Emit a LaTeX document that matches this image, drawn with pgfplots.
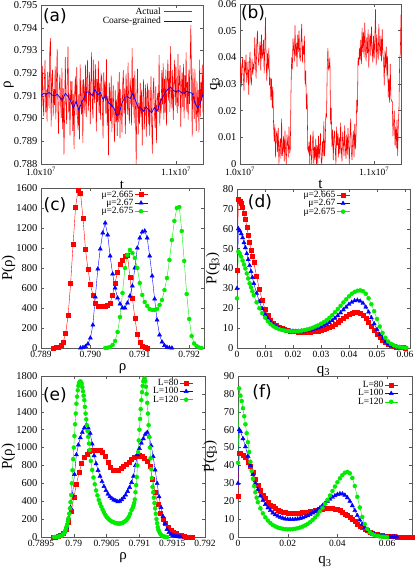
\documentclass[border=0pt]{standalone}
\usepackage{fontspec}
\setmainfont{Liberation Serif}
\newfontfamily\panelfont{DejaVu Sans}
\usepackage{pgfplots}
\pgfplotsset{compat=1.18}
\definecolor{gred}{RGB}{255,0,0}
\definecolor{gblue}{RGB}{0,0,255}
\definecolor{ggreen}{RGB}{0,235,0}

\pgfplotsset{
  panel/.style={
    scale only axis, anchor=south west,
    axis line style={black!65}, every tick/.style={black!65},
    major tick length=3pt, tick align=inside,
    scaled ticks=false,
    /pgf/number format/assume math mode=true,
    /pgf/number format/1000 sep={},
    xticklabel style={font=\fontsize{9.5}{10}\selectfont},
    yticklabel style={font=\fontsize{10.5}{11}\selectfont},
    label style={font=\fontsize{15}{16}\selectfont},
    legend cell align=right, legend plot pos=right,
    legend style={draw=none, fill=none, font=\fontsize{9.5}{9.5}\selectfont,
      row sep=-1.5pt, inner sep=0pt, nodes={inner sep=1pt}},
    legend image code/.code={\draw[mark repeat=2,mark phase=2,##1] plot coordinates {(0pt,0pt)(6.5pt,0pt)(13pt,0pt)};},
  },
  sq/.style={gred, line width=0.4pt, mark=square*, mark size=2pt, mark options={solid}},
  tri/.style={gblue, line width=0.4pt, mark=triangle*, mark size=2.4pt, mark options={solid}},
  cir/.style={ggreen, line width=0.4pt, mark=*, mark size=2pt, mark options={solid}},
}
\newcommand{\plabel}[3]{\node[font=\panelfont\fontsize{17}{17}\selectfont] at (rel axis cs:#1,#2) {#3};}

\begin{document}
\begin{tikzpicture}[x=1pt,y=1pt]
\path[use as bounding box] (0,0) rectangle (415,567);

% (a) rho time series
\begin{axis}[panel, at={(41pt,403pt)}, width=162pt, height=159pt,
  xmin=1000, xmax=1120, ymin=0.788, ymax=0.795,
  xtick={1000,1100}, xticklabels={1.0x10\textsuperscript{7},1.1x10\textsuperscript{7}},
  ytick={0.788,0.789,0.790,0.791,0.792,0.793,0.794,0.795},
  yticklabels={0.788,0.789,0.790,0.791,0.792,0.793,0.794,0.795},
  xlabel={t}, ylabel={ρ},
  xlabel style={at={(axis description cs:0.5,-0.135)}, anchor=center},
  ylabel style={at={(axis description cs:-0.2,0.5)}, anchor=center},
]
\addplot[gred, line width=0.55pt] coordinates {
(1000,0.79180)(1000.5,0.79040)(1001,0.79231)(1001.5,0.79081)(1002,0.79011)(1002.5,0.79161)(1003,0.79257)(1003.5,0.79027)(1004,0.79127)(1004.5,0.78987)
(1005,0.79205)(1005.5,0.79155)(1006,0.79045)(1006.5,0.79295)(1007,0.79354)(1007.5,0.78964)(1008,0.79164)(1008.5,0.79214)(1009,0.79010)(1009.5,0.79130)
(1010,0.79060)(1010.5,0.79230)(1011,0.78997)(1011.5,0.79177)(1012,0.79307)(1012.5,0.79047)(1013,0.78933)(1013.5,0.79133)(1014,0.79193)(1014.5,0.79073)
(1015,0.79003)(1015.5,0.79223)(1016,0.78953)(1016.5,0.79133)(1017,0.78841)(1017.5,0.79021)(1018,0.79271)(1018.5,0.79071)(1019,0.78977)(1019.5,0.79177)
(1020,0.79317)(1020.5,0.79027)(1021,0.79106)(1021.5,0.78926)(1022,0.79166)(1022.5,0.79066)(1023,0.79166)(1023.5,0.78946)(1024,0.79106)(1024.5,0.78866)
(1025,0.79116)(1025.5,0.79186)(1026,0.79016)(1026.5,0.79226)(1027,0.79008)(1027.5,0.78948)(1028,0.79108)(1028.5,0.78908)(1029,0.79239)(1029.5,0.79089)
(1030,0.79019)(1030.5,0.79169)(1031,0.78893)(1031.5,0.79173)(1032,0.79123)(1032.5,0.79023)(1033,0.79238)(1033.5,0.79008)(1034,0.79168)(1034.5,0.79258)
(1035,0.79035)(1035.5,0.79095)(1036,0.79205)(1036.5,0.78975)(1037,0.79161)(1037.5,0.79291)(1038,0.79061)(1038.5,0.79001)(1039,0.79259)(1039.5,0.79069)
(1040,0.79139)(1040.5,0.79239)(1041,0.78944)(1041.5,0.79174)(1042,0.79074)(1042.5,0.79254)(1043,0.79025)(1043.5,0.79155)(1044,0.78995)(1044.5,0.79195)
(1045,0.79183)(1045.5,0.79033)(1046,0.78913)(1046.5,0.79203)(1047,0.79091)(1047.5,0.79161)(1048,0.79021)(1048.5,0.79261)(1049,0.78969)(1049.5,0.79099)
(1050,0.78839)(1050.5,0.79159)(1051,0.79110)(1051.5,0.78990)(1052,0.79190)(1052.5,0.78940)(1053,0.79066)(1053.5,0.79146)(1054,0.78986)(1054.5,0.78896)
(1055,0.79124)(1055.5,0.78984)(1056,0.79084)(1056.5,0.78924)(1057,0.79164)(1057.5,0.78984)(1058,0.79204)(1058.5,0.78914)(1059,0.79129)(1059.5,0.79049)
(1060,0.78939)(1060.5,0.79149)(1061,0.79213)(1061.5,0.79023)(1062,0.79133)(1062.5,0.78933)(1063,0.79197)(1063.5,0.79107)(1064,0.79017)(1064.5,0.79247)
(1065,0.79038)(1065.5,0.78978)(1066,0.79178)(1066.5,0.79118)(1067,0.78970)(1067.5,0.79310)(1068,0.79050)(1068.5,0.79180)(1069,0.78979)(1069.5,0.79209)
(1070,0.79049)(1070.5,0.78799)(1071,0.79099)(1071.5,0.79219)(1072,0.78929)(1072.5,0.79069)(1073,0.78976)(1073.5,0.79156)(1074,0.79006)(1074.5,0.79126)
(1075,0.78882)(1075.5,0.79092)(1076,0.79172)(1076.5,0.78952)(1077,0.79041)(1077.5,0.79151)(1078,0.78921)(1078.5,0.79091)(1079,0.79155)(1079.5,0.78975)
(1080,0.79125)(1080.5,0.78925)(1081,0.79056)(1081.5,0.79186)(1082,0.78976)(1082.5,0.78846)(1083,0.79119)(1083.5,0.79179)(1084,0.79029)(1084.5,0.78959)
(1085,0.79142)(1085.5,0.78892)(1086,0.79082)(1086.5,0.79112)(1087,0.79029)(1087.5,0.79279)(1088,0.78969)(1088.5,0.79089)(1089,0.79023)(1089.5,0.79213)
(1090,0.79063)(1090.5,0.79243)(1091,0.78995)(1091.5,0.79175)(1092,0.79025)(1092.5,0.79215)(1093,0.78969)(1093.5,0.79169)(1094,0.79259)(1094.5,0.79079)
(1095,0.79209)(1095.5,0.79029)(1096,0.79319)(1096.5,0.79119)(1097,0.79044)(1097.5,0.79214)(1098,0.78994)(1098.5,0.79154)(1099,0.79258)(1099.5,0.79058)
(1100,0.79228)(1100.5,0.79078)(1101,0.79024)(1101.5,0.79284)(1102,0.79054)(1102.5,0.79174)(1103,0.79235)(1103.5,0.78965)(1104,0.79135)(1104.5,0.79205)
(1105,0.79051)(1105.5,0.79241)(1106,0.79001)(1106.5,0.79191)(1107,0.79091)(1107.5,0.79291)(1108,0.79031)(1108.5,0.79161)(1109,0.78995)(1109.5,0.79215)
(1110,0.79065)(1110.5,0.79255)(1111,0.79411)(1111.5,0.79171)(1112,0.78921)(1112.5,0.79221)(1113,0.79099)(1113.5,0.78999)(1114,0.79219)(1114.5,0.79049)
(1115,0.78946)(1115.5,0.79166)(1116,0.79006)(1116.5,0.79126)(1117,0.78939)(1117.5,0.79259)(1118,0.79009)(1118.5,0.79159)(1119,0.79077)(1119.5,0.79237)(1120,0.79027)
};
\addplot[gblue, line width=0.7pt] coordinates {
(1000,0.79100)(1002,0.79111)(1004,0.79107)(1006,0.79115)(1008,0.79104)(1010,0.79100)(1012,0.79107)(1014,0.79093)(1016,0.79083)(1018,0.79111)
(1020,0.79097)(1022,0.79076)(1024,0.79046)(1026,0.79076)(1028,0.79038)(1030,0.79069)(1032,0.79093)(1034,0.79118)(1036,0.79115)(1038,0.79101)
(1040,0.79129)(1042,0.79104)(1044,0.79115)(1046,0.79083)(1048,0.79101)(1050,0.79069)(1052,0.79060)(1054,0.79046)(1056,0.79014)(1058,0.79024)
(1060,0.79069)(1062,0.79093)(1064,0.79097)(1066,0.79088)(1068,0.79110)(1070,0.79079)(1072,0.79049)(1074,0.79046)(1076,0.79032)(1078,0.79051)
(1080,0.79035)(1082,0.79026)(1084,0.79049)(1086,0.79032)(1088,0.79069)(1090,0.79093)(1092,0.79115)(1094,0.79129)(1096,0.79139)(1098,0.79124)
(1100,0.79118)(1102,0.79124)(1104,0.79115)(1106,0.79111)(1108,0.79121)(1110,0.79115)(1112,0.79111)(1114,0.79069)(1116,0.79046)(1118,0.79069)(1120,0.79107)
};
% key for the two series
\draw[gred, line width=0.9pt] (axis description cs:0.759,0.962) -- (axis description cs:0.932,0.962);
\draw[gblue, line width=0.9pt] (axis description cs:0.759,0.899) -- (axis description cs:0.932,0.899);
\node[anchor=east, inner sep=0pt, font=\fontsize{9.5}{9.5}\selectfont] at (axis description cs:0.741,0.962) {Actual};
\node[anchor=east, inner sep=0pt, font=\fontsize{9.5}{9.5}\selectfont] at (axis description cs:0.741,0.899) {Coarse-grained};
\plabel{0.086}{0.931}{(a)}
\end{axis}

% (b) q3 time series
\begin{axis}[panel, at={(240pt,403pt)}, width=161pt, height=160pt,
  xmin=1000, xmax=1120, ymin=0, ymax=0.06,
  xtick={1000,1100}, xticklabels={1.0x10\textsuperscript{7},1.1x10\textsuperscript{7}},
  ytick={0,0.01,0.02,0.03,0.04,0.05,0.06},
  yticklabels={0,0.01,0.02,0.03,0.04,0.05,0.06},
  xlabel={t}, ylabel={q\textsubscript{3}},
  xlabel style={at={(axis description cs:0.5,-0.13)}, anchor=center},
  ylabel style={at={(axis description cs:-0.155,0.5)}, anchor=center},
]
\addplot[gred, line width=0.55pt] coordinates {
(1000,0.031)(1000.5,0.038)(1001,0.029)(1001.5,0.0365)(1002,0.040)(1002.5,0.0325)(1003,0.0275)(1003.5,0.039)(1004,0.034)(1004.5,0.041)
(1005,0.0305)(1005.5,0.033)(1006,0.0385)(1006.5,0.026)(1007,0.0375)(1007.5,0.042)(1008,0.032)(1008.5,0.0295)(1009,0.0395)(1009.5,0.0335)
(1010,0.037)(1010.5,0.0355)(1011,0.0475)(1011.5,0.0385)(1012,0.032)(1012.5,0.045)(1013,0.050)(1013.5,0.040)(1014,0.037)(1014.5,0.043)
(1015,0.046)(1015.5,0.035)(1016,0.0485)(1016.5,0.0395)(1017,0.0415)(1017.5,0.0465)(1018,0.034)(1018.5,0.044)(1019,0.055)(1019.5,0.038)
(1020,0.031)(1020.5,0.0415)(1021,0.0355)(1021.5,0.0435)(1022,0.0295)(1022.5,0.0325)(1023,0.024)(1023.5,0.032)(1024,0.021)(1024.5,0.029)
(1025,0.015)(1025.5,0.0085)(1026,0.015)(1026.5,0.0025)(1027,0.0105)(1027.5,0.0125)(1028,0.0045)(1028.5,0.0135)(1029,0)(1029.5,0.006)
(1030,0.0095)(1030.5,0.002)(1031,0.017)(1031.5,0.003)(1032,0.0055)(1032.5,0.0105)(1033,0.001)(1033.5,0.0125)(1034,0.0045)(1034.5,0)
(1035,0.011)(1035.5,0.008)(1036,0.0025)(1036.5,0.014)(1037,0.004)(1037.5,0.0055)(1038,0.027)(1038.5,0.040)(1039,0.0355)(1039.5,0.047)
(1040,0.0435)(1040.5,0.0385)(1041,0.052)(1041.5,0.0405)(1042,0.0455)(1042.5,0.0365)(1043,0.0485)(1043.5,0.042)(1044,0.050)(1044.5,0.040)
(1045,0.039)(1045.5,0.0465)(1046,0.0525)(1046.5,0.038)(1047,0.0445)(1047.5,0.041)(1048,0.048)(1048.5,0.030)(1049,0.035)(1049.5,0.0205)
(1050,0.0265)(1050.5,0.0055)(1051,0.0045)(1051.5,0.0085)(1052,0)(1052.5,0.011)(1053,0.004)(1053.5,0)(1054,0.008)(1054.5,0.0125)
(1055,0)(1055.5,0.0065)(1056,0.0015)(1056.5,0.0095)(1057,0)(1057.5,0.007)(1058,0)(1058.5,0.0105)(1059,0.002)(1059.5,0.006)
(1060,0.0115)(1060.5,0.001)(1061,0)(1061.5,0.0085)(1062,0.003)(1062.5,0.016)(1063,0.003)(1063.5,0.0075)(1064,0.019)(1064.5,0.0175)
(1065,0.0355)(1065.5,0.0435)(1066,0.0355)(1066.5,0.0365)(1067,0.040)(1067.5,0.015)(1068,0.021)(1068.5,0.0065)(1069,0.013)(1069.5,0.0015)
(1070,0.0095)(1070.5,0.0125)(1071,0.0055)(1071.5,0)(1072,0.014)(1072.5,0.007)(1073,0.0115)(1073.5,0.0025)(1074,0.010)(1074.5,0.004)
(1075,0.0155)(1075.5,0.005)(1076,0.001)(1076.5,0.012)(1077,0.0085)(1077.5,0.003)(1078,0.0145)(1078.5,0.006)(1079,0.002)(1079.5,0.011)
(1080,0.0035)(1080.5,0.0135)(1081,0.0065)(1081.5,0)(1082,0.0105)(1082.5,0.017)(1083,0.0045)(1083.5,0.0015)(1084,0.009)(1084.5,0.0125)
(1085,0.0025)(1085.5,0.015)(1086,0.0055)(1086.5,0.011)(1087,0.024)(1087.5,0.0195)(1088,0.040)(1088.5,0.037)(1089,0.0435)(1089.5,0.039)
(1090,0.0465)(1090.5,0.0375)(1091,0.051)(1091.5,0.042)(1092,0.0495)(1092.5,0.040)(1093,0.053)(1093.5,0.043)(1094,0.0385)(1094.5,0.0475)
(1095,0.0415)(1095.5,0.0505)(1096,0.036)(1096.5,0.046)(1097,0.049)(1097.5,0.0405)(1098,0.0515)(1098.5,0.0435)(1099,0.038)(1099.5,0.048)
(1100,0.0395)(1100.5,0.047)(1101,0.058)(1101.5,0.037)(1102,0.0485)(1102.5,0.0425)(1103,0.039)(1103.5,0.0525)(1104,0.044)(1104.5,0.0405)
(1105,0.048)(1105.5,0.0385)(1106,0.0505)(1106.5,0.041)(1107,0.0395)(1107.5,0.0295)(1108,0.0425)(1108.5,0.036)(1109,0.044)(1109.5,0.033)
(1110,0.0405)(1110.5,0.025)(1111,0.032)(1111.5,0.023)(1112,0.0375)(1112.5,0.0245)(1113,0.0235)(1113.5,0.0235)(1114,0.0105)(1114.5,0.016)
(1115,0.020)(1115.5,0.007)(1116,0.014)(1116.5,0.006)(1117,0.0165)(1117.5,0.003)(1118,0.015)(1118.5,0.0205)(1119,0.0395)(1119.5,0.0415)(1120,0.056)
};
\plabel{0.081}{0.944}{(b)}
\end{axis}

% (c) P(rho) for three mu
\begin{axis}[panel, at={(41pt,219pt)}, width=163pt, height=160pt,
  xmin=0.789, xmax=0.7923, ymin=0, ymax=1600,
  xtick={0.789,0.790,0.791,0.792}, xticklabels={0.789,0.790,0.791,0.792},
  ytick={0,200,400,600,800,1000,1200,1400,1600},
  xlabel={ρ}, ylabel={P(ρ)},
  xlabel style={at={(axis description cs:0.5,-0.13)}, anchor=center},
  ylabel style={at={(axis description cs:-0.2,0.5)}, anchor=center},
  legend style={at={(0.656,0.99)}, anchor=north east},
]
\addplot[sq] coordinates {
(0.78925,0)(0.78930,3)(0.78935,10)(0.78940,25)(0.78945,60)(0.78950,150)(0.78955,330)(0.78960,650)(0.78965,1040)(0.78970,1410)
(0.78975,1580)(0.78980,1550)(0.78985,1300)(0.78990,990)(0.78995,790)(0.79000,640)(0.79005,530)(0.79010,450)(0.79015,420)(0.79020,415)
(0.79025,415)(0.79030,420)(0.79035,430)(0.79040,450)(0.79045,530)(0.79050,650)(0.79055,760)(0.79060,840)(0.79065,880)(0.79070,920)
(0.79075,930)(0.79080,710)(0.79085,500)(0.79090,300)(0.79095,140)(0.79100,60)(0.79105,20)(0.79110,5)(0.79115,0)
};
\addplot[tri] coordinates {
(0.78980,0)(0.78985,5)(0.78990,15)(0.78995,40)(0.79000,100)(0.79005,230)(0.79010,510)(0.79015,790)(0.79020,990)(0.79025,1150)
(0.79030,1250)(0.79035,1130)(0.79040,920)(0.79045,740)(0.79050,600)(0.79055,500)(0.79060,440)(0.79065,400)(0.79070,400)(0.79075,450)
(0.79080,520)(0.79085,620)(0.79090,800)(0.79095,1000)(0.79100,1100)(0.79105,1160)(0.79110,1170)(0.79115,1100)(0.79120,920)(0.79125,720)
(0.79130,490)(0.79135,280)(0.79140,130)(0.79145,60)(0.79150,25)(0.79155,8)(0.79160,2)(0.79165,0)
};
\addplot[cir] coordinates {
(0.79030,0)(0.79035,3)(0.79040,10)(0.79045,30)(0.79050,70)(0.79055,160)(0.79060,310)(0.79065,550)(0.79070,800)(0.79075,930)
(0.79080,980)(0.79085,950)(0.79090,900)(0.79095,800)(0.79100,650)(0.79105,530)(0.79110,460)(0.79115,420)(0.79120,390)(0.79125,380)
(0.79130,380)(0.79135,390)(0.79140,430)(0.79145,480)(0.79150,580)(0.79155,700)(0.79160,880)(0.79165,1080)(0.79170,1270)(0.79175,1400)
(0.79180,1410)(0.79185,1170)(0.79190,870)(0.79195,540)(0.79200,290)(0.79205,120)(0.79210,45)(0.79215,20)(0.79220,5)(0.79225,0)
};
\legend{μ=2.665,μ=2.67,μ=2.675}
\plabel{0.086}{0.894}{(c)}
\end{axis}

% (d) P(q3) for three mu
\begin{axis}[panel, at={(237pt,219pt)}, width=173pt, height=159pt,
  xmin=0, xmax=0.0618, ymin=0, ymax=80,
  xtick={0,0.01,0.02,0.03,0.04,0.05,0.06}, xticklabels={0,0.01,0.02,0.03,0.04,0.05,0.06},
  ytick={0,10,20,30,40,50,60,70,80},
  xlabel={q\textsubscript{3}}, ylabel={P(q\textsubscript{3})},
  xlabel style={at={(axis description cs:0.5,-0.145)}, anchor=center},
  ylabel style={at={(axis description cs:-0.14,0.5)}, anchor=center},
  legend style={at={(0.653,0.994)}, anchor=north east},
]
\addplot[sq] coordinates {
(0,39)(0.0005,75)(0.001,74)(0.0015,73)(0.002,71)(0.0025,68)(0.003,65)(0.0035,61)(0.004,57)(0.0045,53)(0.005,49)(0.0055,46)(0.006,43)
(0.007,36)(0.008,29.5)(0.009,24)(0.010,19.5)(0.011,16.5)(0.012,14)(0.013,12.5)(0.014,11.3)(0.015,10.5)(0.016,9.9)(0.017,9.4)(0.018,9)
(0.019,8.7)(0.020,8.4)(0.021,8.2)(0.022,8.1)(0.023,8)(0.024,8)(0.025,8)(0.026,8.1)(0.027,8.2)(0.028,8.4)(0.029,8.7)(0.030,9)
(0.031,9.4)(0.032,9.9)(0.033,10.5)(0.034,11.2)(0.035,12)(0.036,13)(0.037,14)(0.038,15)(0.039,16)(0.040,16.9)(0.041,17.5)(0.042,17.9)
(0.043,18)(0.044,17.6)(0.045,16.6)(0.046,15.1)(0.047,13.2)(0.048,11.1)(0.049,9)(0.050,7.1)(0.051,5.4)(0.052,4)(0.053,2.9)(0.054,2)
(0.055,1.4)(0.056,0.9)(0.057,0.6)(0.058,0.4)(0.059,0.2)(0.060,0.1)
};
\addplot[tri] coordinates {
(0,30)(0.0005,60)(0.001,59)(0.0015,57.5)(0.002,55.5)(0.0025,53)(0.003,50.5)(0.0035,47.5)(0.004,44.5)(0.0045,41.5)(0.005,38.5)(0.0055,35.5)(0.006,32.5)
(0.007,27.5)(0.008,23.3)(0.009,19.8)(0.010,17)(0.011,14.8)(0.012,13)(0.013,11.7)(0.014,10.7)(0.015,10)(0.016,9.5)(0.017,9.1)(0.018,8.8)
(0.019,8.6)(0.020,8.5)(0.021,8.4)(0.022,8.4)(0.023,8.5)(0.024,8.6)(0.025,8.8)(0.026,9.1)(0.027,9.4)(0.028,9.8)(0.029,10.2)(0.030,10.7)
(0.031,11.3)(0.032,12)(0.033,12.8)(0.034,13.8)(0.035,15)(0.036,16.3)(0.037,17.7)(0.038,19.2)(0.039,20.6)(0.040,22)(0.041,23)(0.042,23.8)
(0.043,24)(0.044,23.6)(0.045,22.5)(0.046,20.6)(0.047,18.1)(0.048,15.2)(0.049,12.2)(0.050,9.3)(0.051,6.8)(0.052,4.8)(0.053,3.2)(0.054,2.1)
(0.055,1.3)(0.056,0.8)(0.057,0.5)(0.058,0.3)(0.059,0.15)(0.060,0.05)
};
\addplot[cir] coordinates {
(0,25)(0.0005,48.5)(0.001,47.5)(0.0015,46)(0.002,44)(0.0025,42)(0.003,40)(0.0035,37.5)(0.004,35)(0.0045,32.5)(0.005,30.5)(0.0055,28.5)(0.006,26.5)
(0.007,23)(0.008,20)(0.009,17.5)(0.010,15.3)(0.011,13.5)(0.012,12)(0.013,10.9)(0.014,10.1)(0.015,9.5)(0.016,9.1)(0.017,8.8)(0.018,8.6)
(0.019,8.5)(0.020,8.4)(0.021,8.4)(0.022,8.5)(0.023,8.7)(0.024,9)(0.025,9.3)(0.026,9.7)(0.027,10.2)(0.028,10.8)(0.029,11.4)(0.030,12.2)
(0.031,13)(0.032,14)(0.033,15.2)(0.034,16.5)(0.035,18)(0.036,19.6)(0.037,21.2)(0.038,22.9)(0.039,24.5)(0.040,26)(0.041,27.3)(0.042,28.2)
(0.043,28.8)(0.044,29)(0.045,28.6)(0.046,27.3)(0.047,25)(0.048,22)(0.049,18.5)(0.050,14.6)(0.051,10.8)(0.052,7.6)(0.053,5.1)(0.054,3.3)
(0.055,2.1)(0.056,1.3)(0.057,0.8)(0.058,0.5)(0.059,0.3)(0.060,0.15)(0.0605,0.1)
};
\legend{μ=2.665,μ=2.67,μ=2.675}
\plabel{0.133}{0.918}{(d)}
\end{axis}

% (e) P(rho) for three L
\begin{axis}[panel, at={(41pt,30pt)}, width=164pt, height=161pt,
  xmin=0.7895, xmax=0.792, ymin=0, ymax=1800,
  xtick={0.7895,0.7900,0.7905,0.7910,0.7915,0.7920}, xticklabels={0.7895,0.79,0.7905,0.791,0.7915,0.792},
  ytick={0,200,400,600,800,1000,1200,1400,1600,1800},
  xlabel={ρ}, ylabel={P(ρ)},
  xlabel style={at={(axis description cs:0.5,-0.13)}, anchor=center},
  ylabel style={at={(axis description cs:-0.2,0.5)}, anchor=center},
  legend style={at={(0.927,0.988)}, anchor=north east},
]
\addplot[sq] coordinates {
(0.78968,0)(0.78972,2)(0.78976,8)(0.78980,20)(0.78984,45)(0.78988,90)(0.78992,170)(0.78996,290)(0.79000,440)(0.79004,590)
(0.79008,720)(0.79012,820)(0.79016,890)(0.79020,930)(0.79024,960)(0.79028,975)(0.79032,975)(0.79036,970)(0.79040,965)(0.79044,950)
(0.79048,900)(0.79052,840)(0.79056,780)(0.79060,750)(0.79064,745)(0.79068,750)(0.79072,770)(0.79076,790)(0.79080,810)(0.79084,840)
(0.79088,870)(0.79092,890)(0.79096,905)(0.79100,915)(0.79104,905)(0.79108,880)(0.79112,850)(0.79116,790)(0.79120,650)(0.79124,500)
(0.79128,370)(0.79132,270)(0.79136,200)(0.79140,150)(0.79144,110)(0.79148,80)(0.79152,55)(0.79156,38)(0.79160,25)(0.79164,15)
(0.79168,8)(0.79172,3)(0.79176,0)(0.79180,0)
};
\addplot[tri] coordinates {
(0.78974,0)(0.78977,5)(0.78980,15)(0.78983,30)(0.78986,60)(0.78989,110)(0.78992,210)(0.78995,330)(0.78998,470)(0.79001,700)
(0.79004,920)(0.79007,1030)(0.79010,1110)(0.79013,1170)(0.79016,1220)(0.79019,1250)(0.79022,1220)(0.79025,1160)(0.79028,1040)(0.79031,910)
(0.79034,820)(0.79037,745)(0.79040,680)(0.79043,620)(0.79046,565)(0.79049,520)(0.79052,480)(0.79055,450)(0.79058,430)(0.79061,415)
(0.79064,405)(0.79067,395)(0.79070,400)(0.79073,418)(0.79076,440)(0.79079,470)(0.79082,510)(0.79085,555)(0.79088,610)(0.79091,680)
(0.79094,800)(0.79097,920)(0.79100,990)(0.79103,1050)(0.79106,1100)(0.79109,1150)(0.79112,1170)(0.79115,1120)(0.79118,1020)(0.79121,900)
(0.79124,750)(0.79127,600)(0.79130,450)(0.79133,330)(0.79136,230)(0.79139,150)(0.79142,85)(0.79145,50)(0.79148,30)(0.79151,18)
(0.79154,10)(0.79157,5)(0.79160,2)(0.79163,0)
};
\addplot[cir] coordinates {
(0.78970,0)(0.78972,1)(0.78974,2)(0.78976,4)(0.78978,7)(0.78980,10)(0.78982,18)(0.78984,30)(0.78986,50)(0.78987,70)
(0.78988,90)(0.78989,115)(0.78990,140)(0.78991,175)(0.78992,210)(0.78993,260)(0.78994,320)(0.78995,390)(0.78996,470)(0.78997,600)
(0.78998,746)(0.78999,870)(0.79000,1000)(0.79001,1130)(0.79002,1260)(0.79003,1380)(0.79004,1490)(0.79005,1570)(0.79006,1640)(0.79007,1690)
(0.79008,1720)(0.79009,1735)(0.79010,1740)(0.79011,1730)(0.79012,1715)(0.79013,1675)(0.79014,1630)(0.79015,1580)(0.79016,1530)(0.79017,1455)
(0.79018,1380)(0.79019,1315)(0.79020,1250)(0.79021,1185)(0.79022,1120)(0.79023,1045)(0.79024,970)(0.79026,850)(0.79028,750)(0.79030,665)
(0.79032,590)(0.79034,520)(0.79036,465)(0.79038,415)(0.79040,375)(0.79042,340)(0.79044,305)(0.79046,275)(0.79048,248)(0.79050,225)
(0.79052,208)(0.79054,194)(0.79056,182)(0.79058,173)(0.79060,166)(0.79062,160)(0.79064,155)(0.79066,152)(0.79068,150)(0.79070,150)
(0.79072,153)(0.79074,158)(0.79076,165)(0.79078,175)(0.79080,187)(0.79082,205)(0.79084,228)(0.79086,260)(0.79088,300)(0.79090,330)
(0.79091,350)(0.79092,380)(0.79093,420)(0.79094,500)(0.79095,580)(0.79096,670)(0.79097,800)(0.79098,950)(0.79099,1080)(0.79100,1200)
(0.79101,1320)(0.79102,1430)(0.79103,1530)(0.79104,1620)(0.79105,1690)(0.79106,1740)(0.79107,1765)(0.79108,1770)(0.79109,1740)(0.79110,1680)
(0.79111,1600)(0.79112,1500)(0.79113,1380)(0.79114,1250)(0.79115,1120)(0.79116,1000)(0.79117,880)(0.79118,760)(0.79119,660)(0.79120,560)
(0.79121,500)(0.79122,440)(0.79123,380)(0.79124,320)(0.79125,260)(0.79126,200)(0.79127,155)(0.79128,110)(0.79129,80)(0.79130,60)
(0.79132,35)(0.79134,18)(0.79136,9)(0.79138,4)(0.79140,1)(0.79142,0)
};
\legend{L=80,L=100,L=120}
\plabel{0.085}{0.882}{(e)}
\end{axis}

% (f) P(q3) for three L
\begin{axis}[panel, at={(238pt,30pt)}, width=174pt, height=161pt,
  xmin=0, xmax=0.07, ymin=0, ymax=90,
  xtick={0,0.02,0.04,0.06}, xticklabels={0,0.02,0.04,0.06},
  ytick={0,10,20,30,40,50,60,70,80,90},
  xlabel={q\textsubscript{3}}, ylabel={P(q\textsubscript{3})},
  xlabel style={at={(axis description cs:0.5,-0.155)}, anchor=center},
  ylabel style={at={(axis description cs:-0.16,0.5)}, anchor=center},
  legend style={at={(0.92,0.975)}, anchor=north east},
]
\addplot[sq] coordinates {
(0,23)(0.0005,47)(0.001,47)(0.002,46)(0.003,44.5)(0.004,42)(0.005,39.5)(0.006,36)(0.007,32.5)(0.008,29)(0.009,26)(0.010,23.5)
(0.011,21.5)(0.012,19.5)(0.013,18)(0.014,17)(0.015,16)(0.016,15.2)(0.017,14.6)(0.018,14.1)(0.019,13.8)(0.020,13.5)(0.021,13.3)(0.022,13.2)
(0.023,13.2)(0.024,13.3)(0.025,13.4)(0.026,13.6)(0.027,13.8)(0.028,14)(0.029,14.3)(0.030,14.6)(0.031,14.9)(0.032,15.2)(0.033,15.5)(0.034,15.8)
(0.035,16)(0.036,16.1)(0.037,16.1)(0.038,16)(0.039,15.8)(0.040,15.4)(0.041,14.8)(0.042,14)(0.043,13)(0.044,12)(0.045,11)(0.046,9.8)
(0.047,8.6)(0.048,7.4)(0.049,6.3)(0.050,5.3)(0.051,4.4)(0.052,3.6)(0.053,2.9)(0.054,2.3)(0.055,1.8)(0.056,1.4)(0.057,1.1)(0.058,0.9)
(0.059,0.7)(0.060,0.5)(0.061,0.4)(0.062,0.3)(0.063,0.2)(0.064,0.15)(0.065,0.1)(0.066,0.05)(0.067,0)(0.068,0)(0.069,0)(0.070,0)
};
\addplot[tri] coordinates {
(0,30)(0.0005,60)(0.001,59)(0.002,55)(0.003,50.5)(0.004,45)(0.005,40)(0.006,35)(0.007,30)(0.008,26.5)(0.009,23)(0.010,20.5)
(0.011,18.2)(0.012,16.3)(0.013,14.8)(0.014,13.5)(0.015,12.5)(0.016,11.7)(0.017,11)(0.018,10.5)(0.019,10.1)(0.020,9.9)(0.021,9.8)(0.022,9.8)
(0.023,9.9)(0.024,10.1)(0.025,10.4)(0.026,10.8)(0.027,11.3)(0.028,11.9)(0.029,12.6)(0.030,13.4)(0.031,14.3)(0.032,15.3)(0.033,16.4)(0.034,17.6)
(0.035,18.8)(0.036,20)(0.037,21.2)(0.038,22.2)(0.039,23.1)(0.040,23.8)(0.041,24.2)(0.042,24.1)(0.043,23.4)(0.044,22)(0.045,20)(0.046,17.5)
(0.047,14.8)(0.048,12)(0.049,9.5)(0.050,7.2)(0.051,5.3)(0.052,3.8)(0.053,2.7)(0.054,1.9)(0.055,1.3)(0.056,0.9)(0.057,0.6)(0.058,0.4)
(0.059,0.3)(0.060,0.2)(0.061,0.1)(0.062,0.05)(0.063,0)(0.064,0)
};
\addplot[cir] coordinates {
(0,41.5)(0.0005,83)(0.001,79)(0.0015,76)(0.002,72)(0.0025,67.5)(0.003,63)(0.0035,58)(0.004,53)(0.0045,47.5)(0.005,42)(0.0055,37)
(0.006,32.5)(0.0065,28.5)(0.007,25)(0.0075,22)(0.008,19.5)(0.009,16)(0.010,13.2)(0.011,11)(0.012,9.2)(0.013,7.8)(0.014,6.7)(0.015,5.9)
(0.016,5.3)(0.017,4.9)(0.018,4.6)(0.019,4.4)(0.020,4.3)(0.021,4.3)(0.022,4.4)(0.023,4.6)(0.024,4.9)(0.025,5.3)(0.026,5.8)(0.027,6.5)
(0.028,7.3)(0.029,8.3)(0.030,9.5)(0.031,10.9)(0.032,12.5)(0.033,14.3)(0.034,16.3)(0.035,18.5)(0.036,20.8)(0.037,23.2)(0.038,25.7)(0.039,28.2)
(0.040,30.6)(0.041,32.8)(0.042,34.6)(0.043,35.9)(0.044,36.4)(0.045,35.6)(0.046,33)(0.047,28.5)(0.048,22.5)(0.049,16.5)(0.050,11.2)(0.051,7.2)
(0.052,4.5)(0.053,2.7)(0.054,1.6)(0.055,1)(0.056,0.6)(0.057,0.3)(0.058,0.15)(0.059,0.05)(0.060,0)
};
\legend{L=80,L=100,L=120}
\plabel{0.138}{0.90}{(f)}
\end{axis}
\end{tikzpicture}
\end{document}
